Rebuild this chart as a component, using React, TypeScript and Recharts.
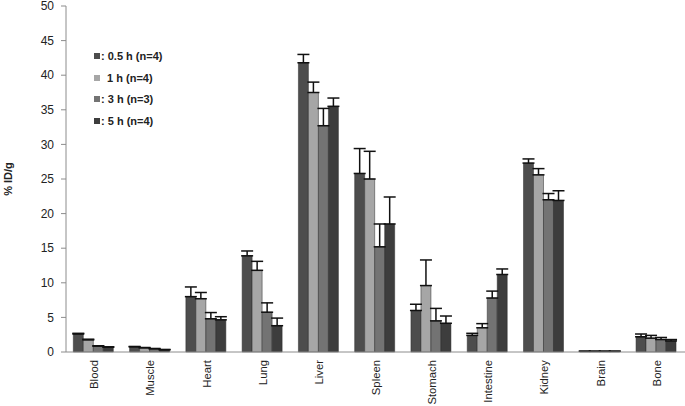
import React from "react";
import { BarChart, Bar, XAxis, YAxis, ErrorBar } from "recharts";

const organs = ["Blood", "Muscle", "Heart", "Lung", "Liver", "Spleen", "Stomach", "Intestine", "Kidney", "Brain", "Bone"];

// mean %ID/g per time point
const h05 = [2.6, 0.75, 8.0, 13.9, 41.8, 25.8, 6.0, 2.4, 27.3, 0.1, 2.2];
const h1 = [1.75, 0.6, 7.7, 11.8, 37.5, 25.0, 9.6, 3.5, 25.6, 0.1, 2.0];
const h3 = [0.85, 0.46, 4.8, 5.75, 32.7, 15.2, 4.5, 7.8, 22.0, 0.1, 1.8];
const h5 = [0.7, 0.32, 4.65, 3.8, 35.5, 18.5, 4.15, 11.2, 21.9, 0.1, 1.6];

// standard deviations (upper only)
const sd05 = [0.1, 0.05, 1.4, 0.7, 1.2, 3.6, 0.9, 0.3, 0.6, 0.02, 0.4];
const sd1 = [0.1, 0.05, 0.9, 1.3, 1.5, 4.0, 3.7, 0.6, 0.9, 0.02, 0.4];
const sd3 = [0.05, 0.05, 0.9, 1.35, 2.5, 3.3, 1.8, 1.0, 0.9, 0.02, 0.3];
const sd5 = [0.05, 0.05, 0.45, 1.1, 1.2, 3.9, 1.05, 0.8, 1.4, 0.02, 0.2];

const yTicks = [0, 5, 10, 15, 20, 25, 30, 35, 40, 45, 50];

const series = [
  { key: "h05", err: "e05", label: ": 0.5 h (n=4)", color: "#4d4d4d" },
  { key: "h1", err: "e1", label: "  1 h (n=4)", color: "#a6a6a6" },
  { key: "h3", err: "e3", label: ": 3 h (n=3)", color: "#737373" },
  { key: "h5", err: "e5", label: ": 5 h (n=4)", color: "#3d3d3d" },
];

const data = organs.map((name, i) => ({
  name,
  h05: h05[i],
  h1: h1[i],
  h3: h3[i],
  h5: h5[i],
  e05: [0, sd05[i]],
  e1: [0, sd1[i]],
  e3: [0, sd3[i]],
  e5: [0, sd5[i]],
}));

const font = "'Liberation Sans', Arial, sans-serif";

function LegendBox() {
  return (
    <div
      style={{
        position: "absolute",
        left: 94,
        top: 45,
        fontFamily: font,
        fontSize: 11,
        fontWeight: "bold",
        color: "#222",
      }}
    >
      {series.map((s) => (
        <div key={s.key} style={{ display: "flex", alignItems: "center", height: 21.7, whiteSpace: "pre" }}>
          <span style={{ display: "inline-block", width: 6, height: 6, background: s.color, marginRight: 1 }} />
          <span>{s.label}</span>
        </div>
      ))}
    </div>
  );
}

function XTick(props: any) {
  const { x, y, payload } = props;
  return (
    <text
      x={x}
      y={y}
      transform={`rotate(-90 ${x} ${y})`}
      textAnchor="end"
      dominantBaseline="central"
      fontFamily={font}
      fontSize={11.3}
      fill="#222"
    >
      {payload.value}
    </text>
  );
}

export default function App() {
  return (
    <div style={{ position: "absolute", left: 0, top: 0, width: 685, height: 406, background: "#fff" }}>
      <BarChart
        width={685}
        height={406}
        data={data}
        margin={{ top: 6, right: 0, bottom: 0, left: 0 }}
        barCategoryGap="13%"
        barGap={0}
      >
        <XAxis
          dataKey="name"
          height={54}
          interval={0}
          tickLine={false}
          tick={<XTick />}
          tickMargin={2}
          stroke="#8c8c8c"
        />
        <YAxis
          width={66}
          domain={[0, 50]}
          ticks={yTicks}
          interval={0}
          tickSize={5}
          tickMargin={7}
          stroke="#8c8c8c"
          tick={{ fill: "#222", fontSize: 12, fontFamily: font }}
          label={{
            value: "% ID/g",
            angle: -90,
            position: "insideLeft",
            offset: 8,
            style: { fontFamily: font, fontSize: 11, fontWeight: "bold", fill: "#222", textAnchor: "middle" },
          }}
        />
        {series.map((s) => (
          <Bar key={s.key} dataKey={s.key} fill={s.color} stroke="#2a2a2a" strokeWidth={0.5} isAnimationActive={false}>
            <ErrorBar dataKey={s.err} width={6} stroke="#111" strokeWidth={1.5} direction="y" />
          </Bar>
        ))}
      </BarChart>
      <LegendBox />
    </div>
  );
}
